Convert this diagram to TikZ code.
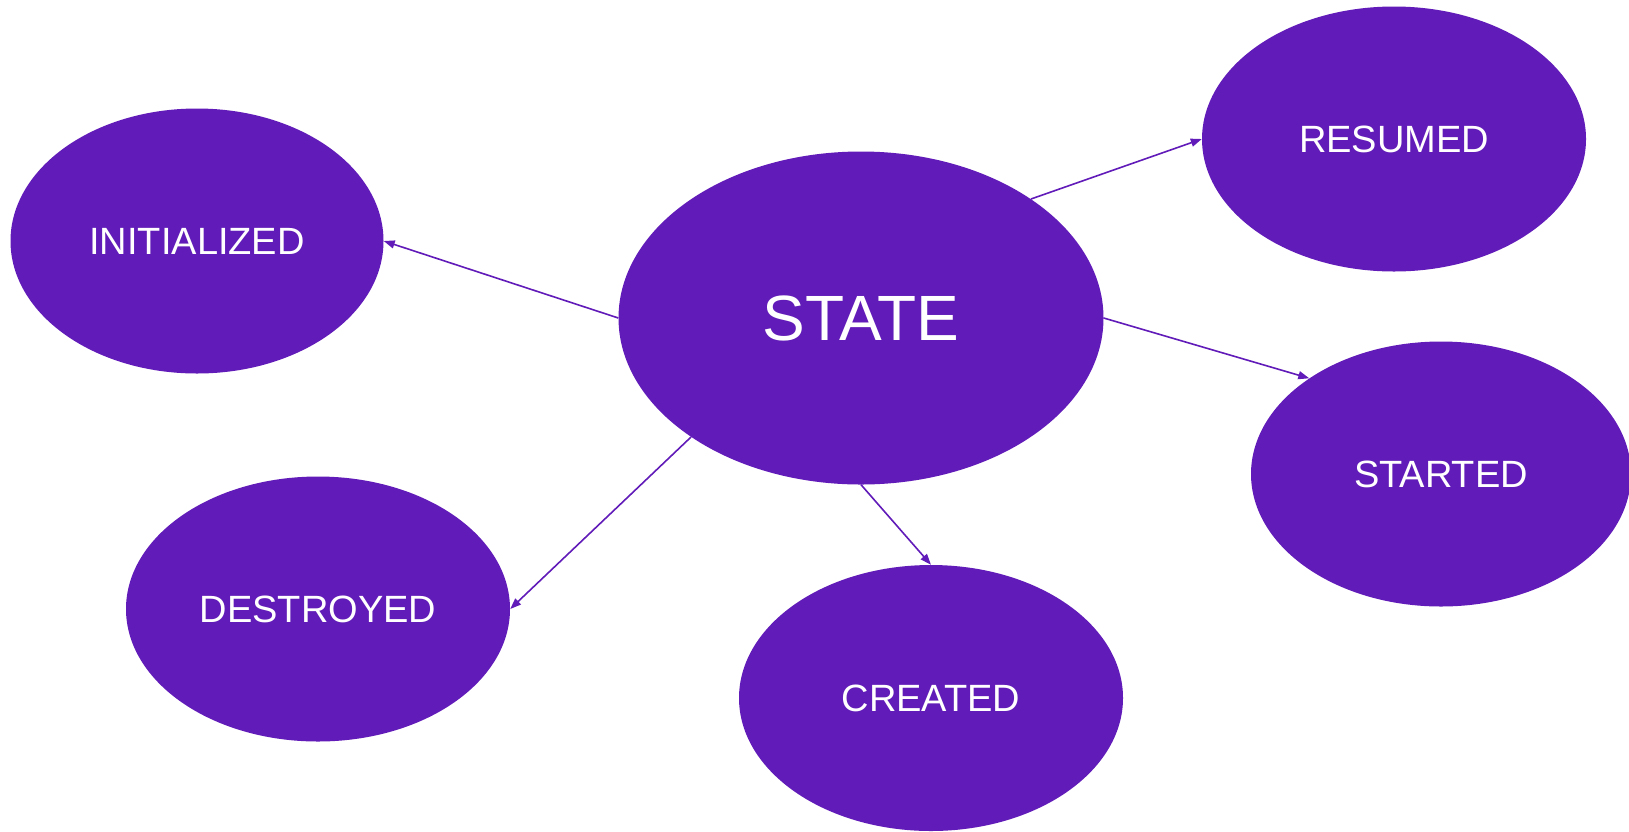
\documentclass[tikz,border=0pt]{standalone}
\usepackage{fontspec}
\setmainfont{Liberation Sans}
\usetikzlibrary{shapes.geometric,arrows.meta}
\definecolor{statepurple}{RGB}{97,27,184}
\newcommand{\lowered}[1]{\raisebox{-2.5pt}{#1}}
\begin{document}
\begin{tikzpicture}[x=1pt,y=-1pt,
  stateell/.style={ellipse,fill=statepurple,draw=none,inner sep=0pt,
    text=white,font=\fontsize{38}{40}\selectfont},
  link/.style={draw=statepurple,line width=1.6pt,
    -{Triangle[length=11pt,width=8pt]}}]
  \useasboundingbox (0,0) rectangle (1629,831);
  % central state and its five phases
  \node[stateell,minimum width=485pt,minimum height=333pt,
        font=\fontsize{64}{68}\selectfont] (state) at (861,318) {\lowered{STATE}};
  \node[stateell,minimum width=373pt,minimum height=265pt] (init) at (197,241) {\lowered{INITIALIZED}};
  \node[stateell,minimum width=384pt,minimum height=265pt] (resumed) at (1394,139) {\lowered{RESUMED}};
  \node[stateell,minimum width=380pt,minimum height=265pt] (started) at (1441,474) {\lowered{STARTED}};
  \node[stateell,minimum width=384pt,minimum height=265pt] (destroyed) at (318,609) {\lowered{DESTROYED}};
  \node[stateell,minimum width=384pt,minimum height=266pt] (created) at (931,698) {\lowered{CREATED}};
  % transitions
  \draw[link] (state.west) -- (init.east);
  \draw[link] (state.35) -- (resumed.west);
  \draw[link] (state.east) -- (started.144);
  \draw[link] (state.215) -- (destroyed.east);
  \draw[link] (state.south) -- (created.north);
\end{tikzpicture}
\end{document}
